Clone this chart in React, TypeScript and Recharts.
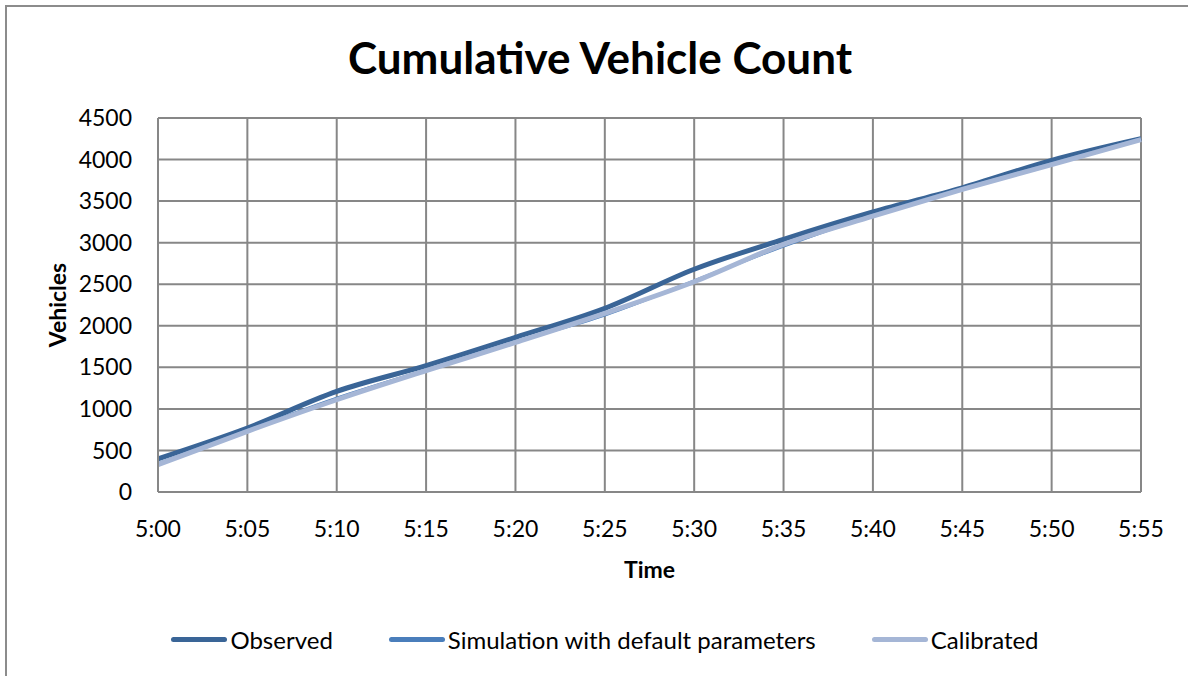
import React from 'react';
import { LineChart, Line, XAxis, YAxis, CartesianGrid } from 'recharts';

const times = ['5:00', '5:05', '5:10', '5:15', '5:20', '5:25', '5:30', '5:35', '5:40', '5:45', '5:50', '5:55'];
const observed = [400, 770, 1210, 1520, 1860, 2210, 2680, 3040, 3370, 3660, 3990, 4250];
const simulated = [340, 740, 1130, 1470, 1810, 2130, 2540, 2960, 3330, 3650, 3950, 4250];
const calibrated = [330, 730, 1110, 1460, 1800, 2150, 2530, 2980, 3320, 3640, 3940, 4240];
const yTicks = [0, 500, 1000, 1500, 2000, 2500, 3000, 3500, 4000, 4500];

const series = [
  { key: 'observed', name: 'Observed', color: '#3A6597', width: 5 },
  { key: 'simulated', name: 'Simulation with default parameters', color: '#4A7EBB', width: 3 },
  { key: 'calibrated', name: 'Calibrated', color: '#A5B6D6', width: 5 },
];

const data = times.map((t, i) => ({
  time: t,
  observed: observed[i],
  simulated: simulated[i],
  calibrated: calibrated[i],
}));

const font = 'Lato, "Open Sans", sans-serif';
const gridColor = '#878787';

export default function App() {
  return (
    <div style={{ position: 'fixed', top: 0, left: 0, width: 1188, height: 676, overflow: 'hidden', background: '#fff', fontFamily: font }}>
      {/* outer chart border, cut off by the picture on right and bottom */}
      <div style={{ position: 'absolute', left: 5, top: 5, width: 1300, height: 800, border: '2px solid #8c8c8c' }} />
      <div style={{ position: 'absolute', top: 31, left: 0, width: 1200, textAlign: 'center', fontSize: 44, fontWeight: 700, color: '#000' }}>
        Cumulative Vehicle Count
      </div>
      <div style={{ position: 'absolute', top: 0, left: 0 }}>
        <LineChart width={1188} height={676} data={data} margin={{ top: 118, right: 47, bottom: 94, left: 48 }}>
          <CartesianGrid stroke={gridColor} strokeWidth={2} />
          <XAxis
            dataKey="time"
            height={90}
            tickLine={false}
            tickSize={0}
            tickMargin={29}
            axisLine={{ stroke: gridColor, strokeWidth: 2 }}
            tick={{ fill: '#000', fontSize: 23, fontFamily: font }}
            interval={0}
            label={{ value: 'Time', position: 'insideBottom', offset: 4, fill: '#000', fontSize: 23, fontWeight: 700, fontFamily: font }}
          />
          <YAxis
            width={110}
            domain={[0, 4500]}
            ticks={yTicks}
            interval={0}
            tickLine={false}
            tickSize={0}
            tickMargin={26}
            axisLine={{ stroke: gridColor, strokeWidth: 2 }}
            tick={{ fill: '#000', fontSize: 23, fontFamily: font }}
            label={{ value: 'Vehicles', angle: -90, position: 'insideLeft', offset: 10, fill: '#000', fontSize: 23, fontWeight: 700, fontFamily: font, style: { textAnchor: 'middle' } }}
          />
          {series.map((s) => (
            <Line
              key={s.key}
              type="monotone"
              dataKey={s.key}
              name={s.name}
              stroke={s.color}
              strokeWidth={s.width}
              dot={false}
              activeDot={false}
              isAnimationActive={false}
            />
          ))}
        </LineChart>
      </div>
      <div style={{ position: 'absolute', top: 625, left: 0, width: 1210, display: 'flex', justifyContent: 'center', gap: 56, fontSize: 24, color: '#000' }}>
        {series.map((s) => (
          <div key={s.key} style={{ display: 'flex', alignItems: 'center' }}>
            <div style={{ width: 56, height: 5, borderRadius: 3, background: s.color, marginRight: 3 }} />
            <span>{s.name}</span>
          </div>
        ))}
      </div>
    </div>
  );
}
